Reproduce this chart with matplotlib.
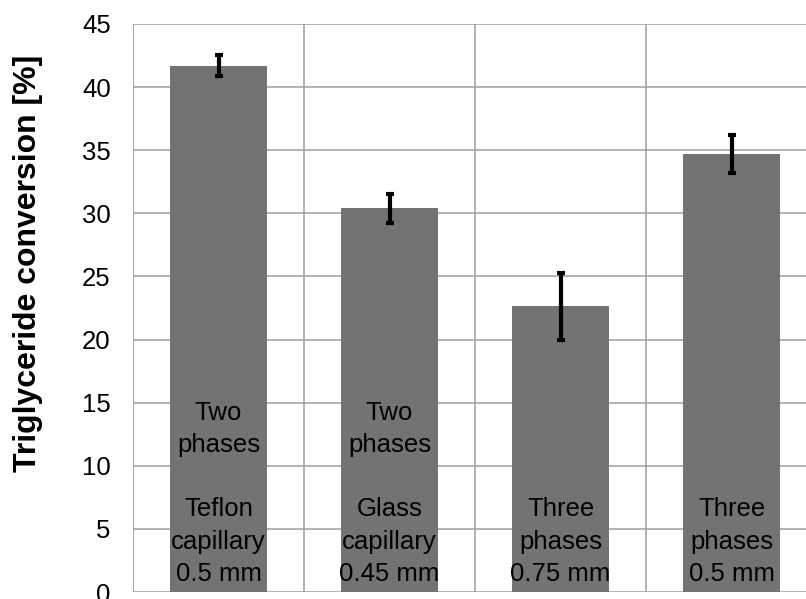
import numpy as np
import matplotlib.pyplot as plt

# Bar labels (drawn inside the bars) and measured conversions
labels = ["Two\nphases\n\nTeflon\ncapillary\n0.5 mm",
          "Two\nphases\n\nGlass\ncapillary\n0.45 mm",
          "Three\nphases\n0.75 mm",
          "Three\nphases\n0.5 mm"]
conversion = [41.7, 30.4, 22.65, 34.7]
errors = [0.85, 1.15, 2.65, 1.5]
y_ticks = [0, 5, 10, 15, 20, 25, 30, 35, 40, 45]

plt.rcParams['font.family'] = ['Liberation Sans', 'DejaVu Sans']

fig = plt.figure(figsize=(8.06, 5.99), dpi=100)
ax = fig.add_axes([133 / 806, 7 / 599, 684 / 806, 568 / 599])

x = np.arange(len(conversion)) + 0.5
ax.bar(x, conversion, width=0.567, color='#737373', zorder=2)
ax.errorbar(x, conversion, yerr=errors, fmt='none', ecolor='black',
            elinewidth=3.0, capsize=3.0, capthick=3.0, zorder=3)

for xi, lab in zip(x, labels):
    ax.text(xi, 0.5, lab, ha='center', va='bottom', fontsize=18.5,
            linespacing=1.43, color='black', zorder=4)

ax.set_xlim(0, 4)
ax.set_ylim(0, 45)
ax.set_xticks([0, 1, 2, 3, 4])
ax.set_xticklabels([])
ax.set_yticks(y_ticks)
ax.tick_params(axis='y', length=0, pad=16, labelsize=18.5)
ax.tick_params(axis='x', length=0)
ax.grid(True, color='#a6a6a6', linewidth=1.2, zorder=1)
ax.set_axisbelow(True)
for s in ax.spines.values():
    s.set_visible(False)
ax.axvline(0, color='#a6a6a6', linewidth=1.2, zorder=1)

fig.text(28 / 806, 1 - 263 / 599, 'Triglyceride conversion [%]', rotation=90,
         ha='center', va='center', fontsize=23, fontweight='bold')

fig.savefig('out.png', dpi=100)
